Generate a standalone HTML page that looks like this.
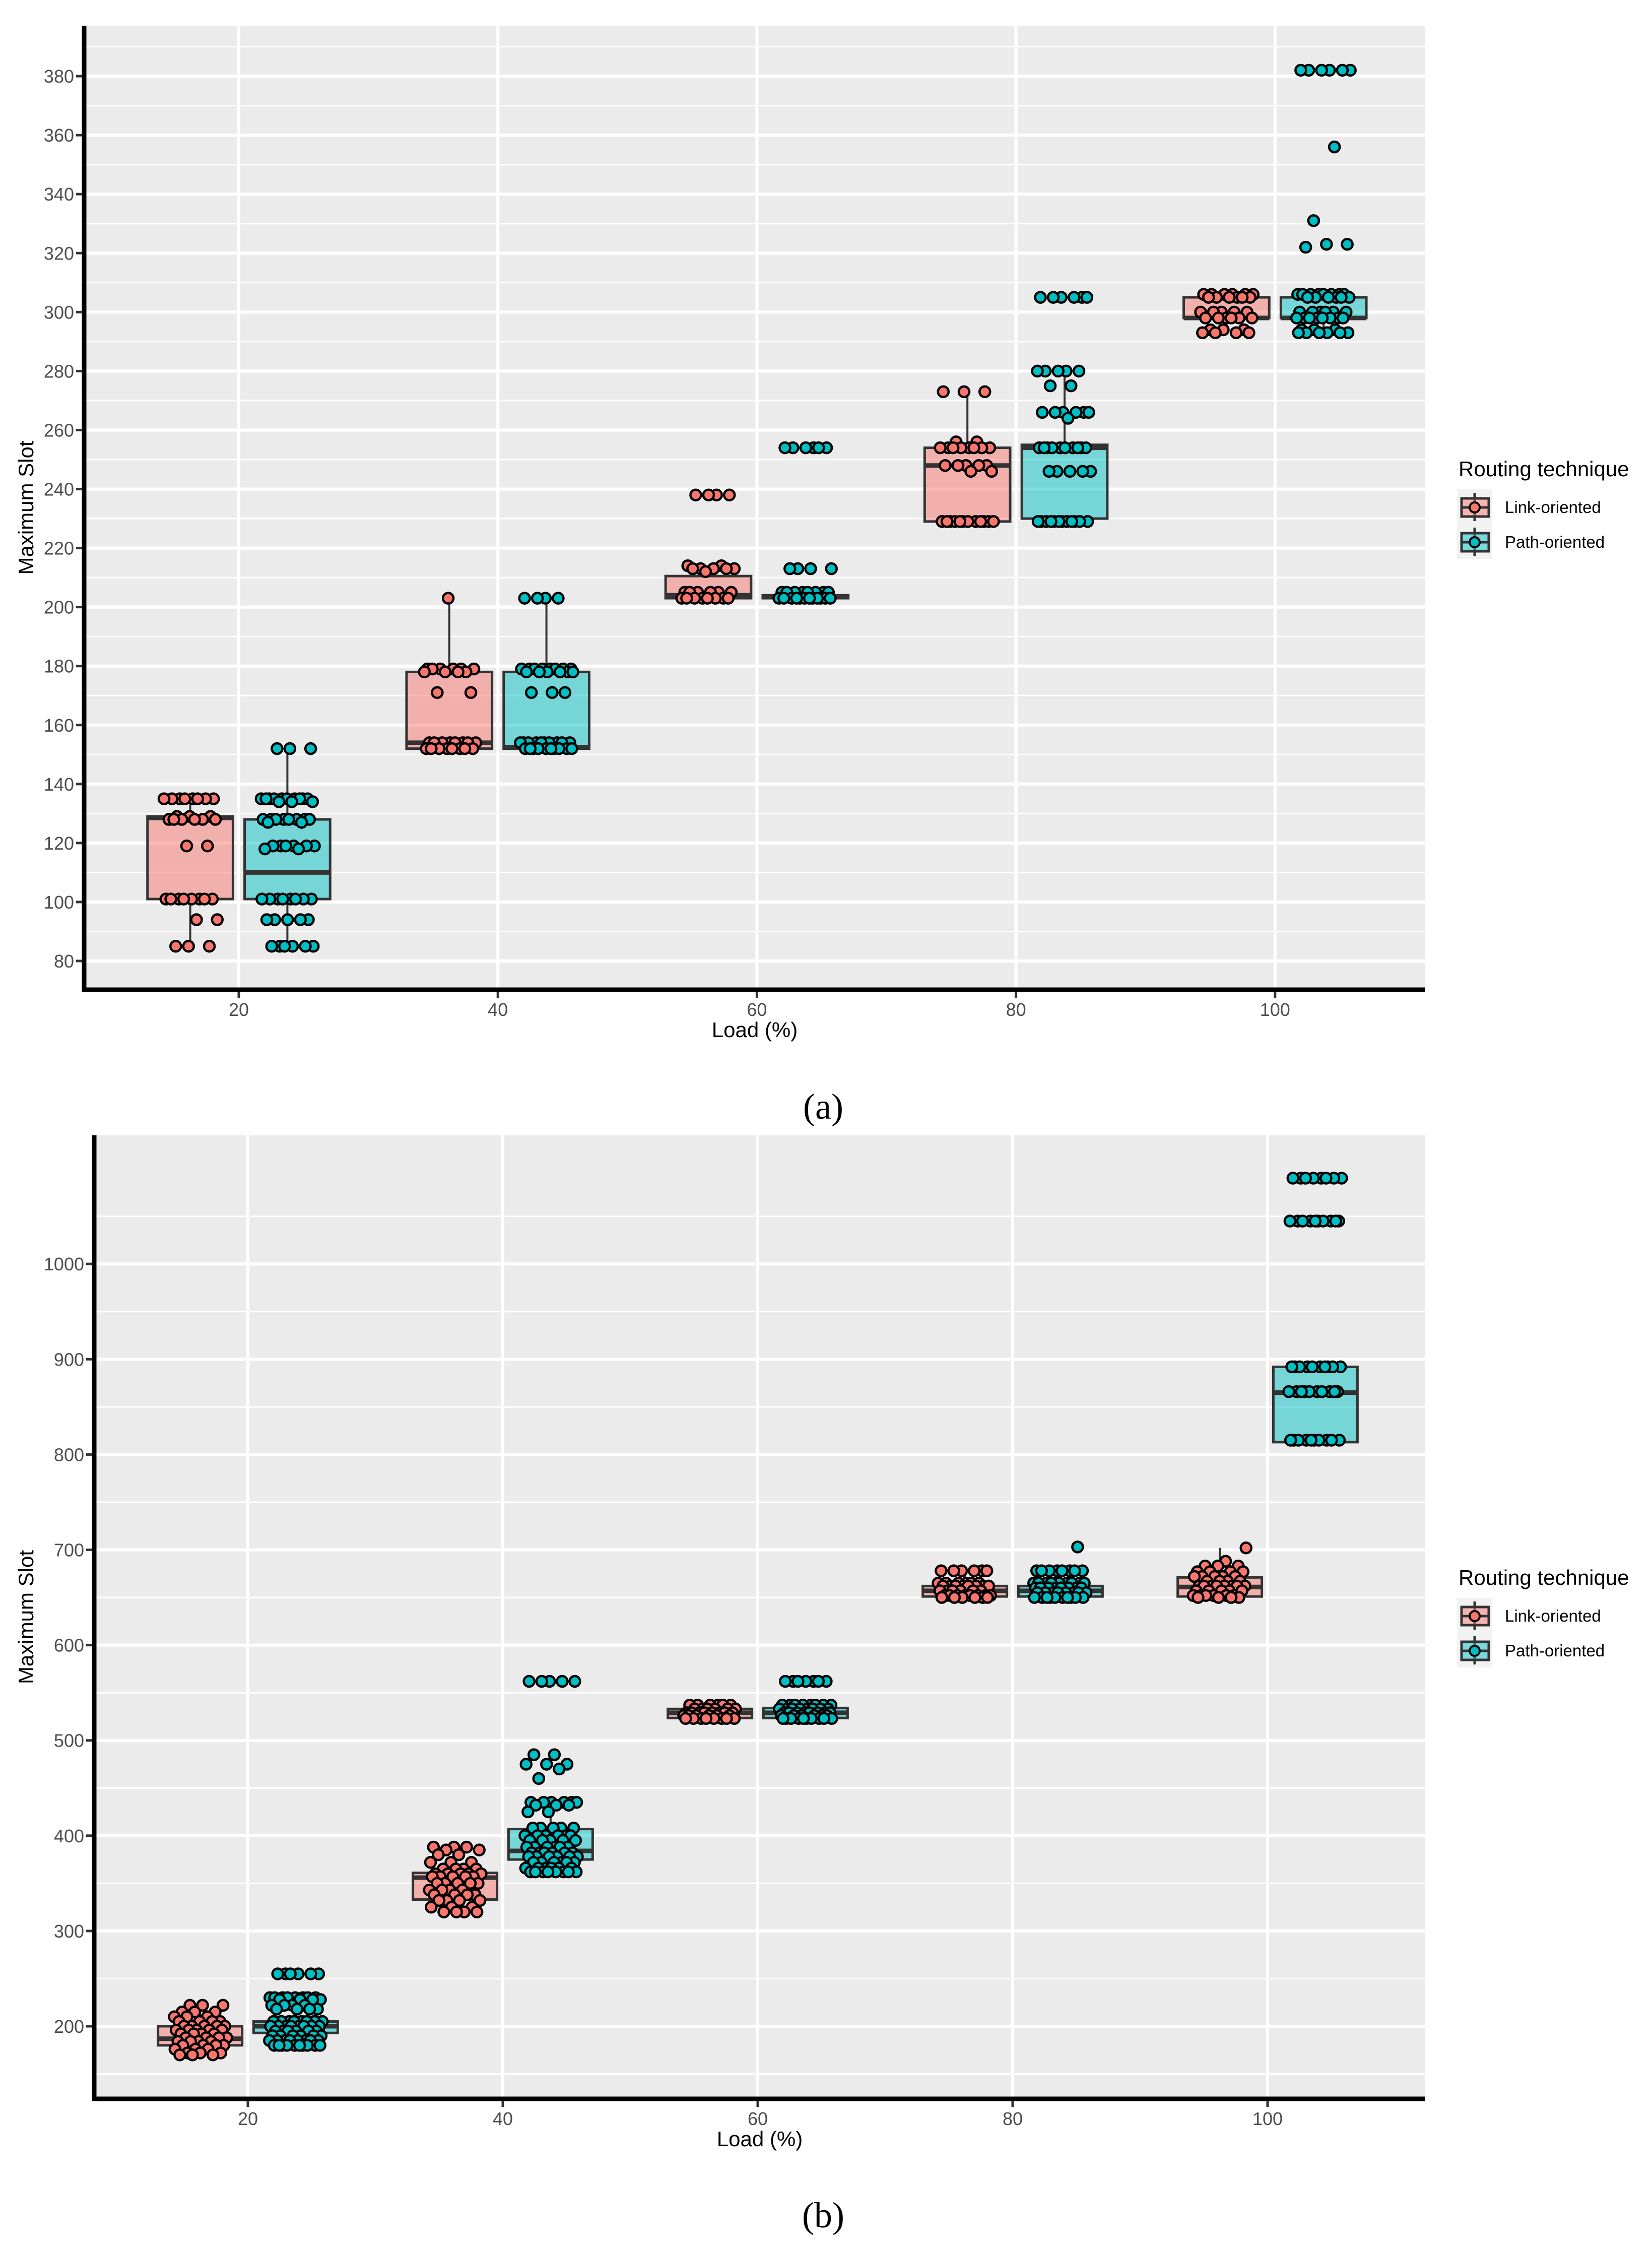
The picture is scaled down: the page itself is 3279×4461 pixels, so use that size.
<!DOCTYPE html>
<html><head><meta charset="utf-8"><style>
html,body{margin:0;padding:0;background:#fff;}
svg{display:block;}
</style></head>
<body>
<svg id="chart" xmlns="http://www.w3.org/2000/svg" width="3279" height="4461" viewBox="0 0 3279 4461"></svg>
<script>
// ---------- DATA ----------
const loads = [20, 40, 60, 80, 100];
const aTicks = [80,100,120,140,160,180,200,220,240,260,280,300,320,340,360,380];
const aMinor = [90,110,130,150,170,190,210,230,250,270,290,310,330,350,370,390];
const bTicks = [200,300,400,500,600,700,800,900,1000];
const bMinor = [150,250,350,450,550,650,750,850,950,1050];
const xTickLabels = ["20","40","60","80","100"];
// box stats: [lowWhisker, q1, median, q3, highWhisker]
const aLinkStats = [[85,101,128.5,129,135],[152,152,154,178,203],[203,203,204,210.5,214],[229,229,248,254,273],[293,298,298,305,306]];
const aPathStats = [[85,101,110,128,152],[152,152,152.5,178,203],[203,203,203.5,204,205],[229,230,254,255,280],[293,298,298,305,306]];
const bLinkStats = [[170,180,187,200,218],[320,333,356,361,388],[523,523.5,529,533,537],[650,651,657,662,678],[650,651,661,671,702]];
const bPathStats = [[180,193,200,205,230],[360,375,384,407,440],[523,523.5,529,534,537],[650,651,657,662,678],[815,813,865,892,892]];
// points as [value, count]
const aLinkPts = [
 [[135,8],[129,3],[128,6],[119,2],[101,8],[94,2],[85,3]],
 [[203,1],[179,6],[178,4],[171,2],[154,8],[152,8]],
 [[238,4],[214,2],[213,5],[212,1],[205,6],[203,8]],
 [[273,3],[256,2],[254,8],[248,5],[246,2],[229,12]],
 [[306,6],[305,6],[300,5],[298,6],[294,3],[293,4]]];
const aPathPts = [
 [[152,3],[135,10],[134,3],[128,8],[127,2],[119,6],[118,2],[101,8],[94,5],[85,6]],
 [[203,4],[179,8],[178,6],[171,3],[154,10],[152,10]],
 [[254,6],[213,4],[205,8],[203,12]],
 [[305,6],[280,5],[275,2],[266,6],[264,1],[254,10],[246,5],[229,12]],
 [[382,6],[356,1],[331,1],[323,2],[322,1],[306,8],[305,6],[300,6],[298,8],[294,3],[293,6]]];
const bLinkPts = [
 [[222,3],[215,3],[210,3],[205,4],[200,5],[196,5],[192,4],[188,4],[184,4],[180,4],[176,3],[172,3],[170,3]],
 [[388,3],[385,2],[380,2],[372,3],[365,4],[360,5],[357,5],[350,5],[343,4],[338,4],[332,4],[325,3],[320,4]],
 [[537,6],[533,6],[529,8],[526,6],[523,8]],
 [[678,6],[665,6],[662,8],[657,6],[652,8],[650,6]],
 [[702,1],[688,1],[683,3],[677,4],[672,5],[667,4],[662,8],[657,5],[652,6],[650,4]]];
const bPathPts = [
 [[255,6],[230,8],[228,4],[222,4],[218,4],[205,8],[200,8],[195,6],[190,6],[185,8],[180,10]],
 [[562,5],[485,2],[475,3],[470,1],[460,1],[435,6],[432,3],[425,2],[408,5],[400,6],[395,5],[388,6],[382,6],[378,6],[372,6],[366,6],[362,8]],
 [[562,7],[537,8],[533,8],[529,8],[526,6],[523,10]],
 [[703,1],[678,8],[665,10],[660,10],[655,8],[650,10]],
 [[1090,8],[1045,10],[892,10],[866,10],[815,10]]];

// ---------- DRAW ----------
const NS = "http://www.w3.org/2000/svg";
const svg = document.getElementById("chart");
function mk(tag, attrs, parent){
  const e = document.createElementNS(NS, tag);
  for (const k in attrs) e.setAttribute(k, attrs[k]);
  (parent||svg).appendChild(e);
  return e;
}
const LINK = "#F8766D", PATH = "#00BFC4";

function panel(P){
  const g = mk("g", {});
  
  
  const X = v => P.x20 + (v - 20) * P.xs;
  const Y = v => P.yRef - (v - P.vRef) * P.ys;
  const bg = mk("rect", {x:P.left, y:P.top, width:P.right-P.left, height:P.bottom-P.top, fill:"#EBEBEB"}, g);
  
  
  P.minor.forEach(v => {
    const l = mk("line", {x1:P.left, x2:P.right, y1:Y(v), y2:Y(v), stroke:"#fff", "stroke-width":3}, g);
    
    
  });
  P.ticks.forEach(v => {
    const l = mk("line", {x1:P.left, x2:P.right, y1:Y(v), y2:Y(v), stroke:"#fff", "stroke-width":6}, g);
    
    
  });
  loads.forEach(v => {
    const l = mk("line", {x1:X(v), x2:X(v), y1:P.top, y2:P.bottom, stroke:"#fff", "stroke-width":6}, g);
    
    
  });
  const groups = [[P.linkStats, P.linkPts, LINK, -3.75, 'link'], [P.pathStats, P.pathPts, PATH, 3.75, 'path']];
  groups.forEach(([stats, pts, col, off, nm]) => {
    loads.forEach((ld, i) => {
      const s = stats[i], cx = X(ld + off), hw = 3.3 * P.xs;
      const bx = mk("g", {}, g);
      
      
      mk("line", {x1:cx, x2:cx, y1:Y(s[3]), y2:Y(s[4]), stroke:"#333", "stroke-width":4}, bx);
      mk("line", {x1:cx, x2:cx, y1:Y(s[1]), y2:Y(s[0]), stroke:"#333", "stroke-width":4}, bx);
      const top = Math.min(Y(s[3]), Y(s[1])), h = Math.abs(Y(s[1]) - Y(s[3]));
      mk("rect", {x:cx-hw, y:top, width:2*hw, height:Math.max(h,1), fill:col, "fill-opacity":0.5, stroke:"#333", "stroke-width":5}, bx);
      mk("line", {x1:cx-hw, x2:cx+hw, y1:Y(s[2]), y2:Y(s[2]), stroke:"#333", "stroke-width":9}, bx);
    });
  });
  groups.forEach(([stats, pts, col, off, nm]) => {
    loads.forEach((ld, i) => {
      let k = 0;
      pts[i].forEach(([v, c]) => {
        for (let j = 0; j < c; j++) {
          const fr = ((k * 0.6180339 + 0.31 + i * 0.17) % 1) - 0.5;
          k++;
          const p = mk("circle", {cx:X(ld + off + fr * 4.2), cy:Y(v), r:10.5, fill:col, stroke:"#000", "stroke-width":4.5}, g);
          
          
        }
      });
    });
  });
  // axes
  const ya = mk("line", {x1:P.axX, x2:P.axX, y1:P.top, y2:P.axY+4, stroke:"#000", "stroke-width":9}, g);
  
  
  const xa = mk("line", {x1:P.axX-4, x2:P.right, y1:P.axY, y2:P.axY, stroke:"#000", "stroke-width":9}, g);
  
  
  P.ticks.forEach(v => {
    mk("line", {x1:P.axX-16, x2:P.axX-4, y1:Y(v), y2:Y(v), stroke:"#333", "stroke-width":5}, g);
    const t = mk("text", {x:P.axX-20, y:Y(v)+13, "text-anchor":"end", "font-size":36, fill:"#4D4D4D", "font-family":"Liberation Sans, sans-serif"}, g);
    t.textContent = v;
    
    
  });
  loads.forEach((v, i) => {
    mk("line", {x1:X(v), x2:X(v), y1:P.axY+4, y2:P.axY+16, stroke:"#333", "stroke-width":5}, g);
    const t = mk("text", {x:X(v), y:P.axY+52, "text-anchor":"middle", "font-size":36, fill:"#4D4D4D", "font-family":"Liberation Sans, sans-serif"}, g);
    t.textContent = xTickLabels[i];
    
    
  });
  const xt = mk("text", {x:(P.left+P.right)/2, y:P.axY+94, "text-anchor":"middle", "font-size":42, fill:"#000", "font-family":"Liberation Sans, sans-serif"}, g);
  xt.textContent = "Load (%)";
  
  
  const cy = (P.top+P.bottom)/2;
  const yt = mk("text", {x:66, y:cy, "text-anchor":"middle", "font-size":42, fill:"#000", "font-family":"Liberation Sans, sans-serif", transform:`rotate(-90 66 ${cy})`}, g);
  yt.textContent = "Maximum Slot";
  
  
  // legend
  const lg = mk("g", {transform:`translate(0 ${P.legDy})`}, g);
  
  
  const lt = mk("text", {x:2895, y:945, "font-size":42, fill:"#000", "font-family":"Liberation Sans, sans-serif"}, lg);
  lt.textContent = "Routing technique";
  
  
  mk("rect", {x:2892, y:971, width:70, height:138, fill:"#F2F2F2"}, lg);
  [["Link-oriented", LINK], ["Path-oriented", PATH]].forEach(([lab, col], i) => {
    const e = mk("g", {transform:`translate(0 ${i*69})`}, lg);
    
    
    mk("line", {x1:2927, x2:2927, y1:978, y2:1034, stroke:"#333", "stroke-width":5}, e);
    mk("rect", {x:2901, y:989, width:54, height:36, fill:col, "fill-opacity":0.5, stroke:"#333", "stroke-width":5}, e);
    mk("line", {x1:2901, x2:2955, y1:1007, y2:1007, stroke:"#333", "stroke-width":5}, e);
    mk("circle", {cx:2927, cy:1007, r:10, fill:col, stroke:"#000", "stroke-width":4}, e);
    const t = mk("text", {x:2987, y:1018, "font-size":33, fill:"#000", "font-family":"Liberation Sans, sans-serif"}, e);
    t.textContent = lab;
  });
  const cap = mk("text", {x:1634, y:P.capY, "text-anchor":"middle", "font-size":72, "font-weight":"500", fill:"#000", "font-family":"Liberation Serif, serif"}, g);
  cap.textContent = P.cap;
  
  
}

panel({name:"panel-a", left:167, right:2829, top:51, bottom:1964, axX:167, axY:1964,
  x20:474, xs:25.71, yRef:1907, vRef:80, ys:5.853, ticks:aTicks, minor:aMinor,
  linkStats:aLinkStats, pathStats:aPathStats, linkPts:aLinkPts, pathPts:aPathPts, legDy:0, capY:2220, cap:"(a)"});
panel({name:"panel-b", left:187, right:2829, top:2253, bottom:4165, axX:187, axY:4165,
  x20:492, xs:25.3, yRef:4021, vRef:200, ys:1.891, ticks:bTicks, minor:bMinor,
  linkStats:bLinkStats, pathStats:bPathStats, linkPts:bLinkPts, pathPts:bPathPts, legDy:2200, capY:4420, cap:"(b)"});
</script>
</body></html>
